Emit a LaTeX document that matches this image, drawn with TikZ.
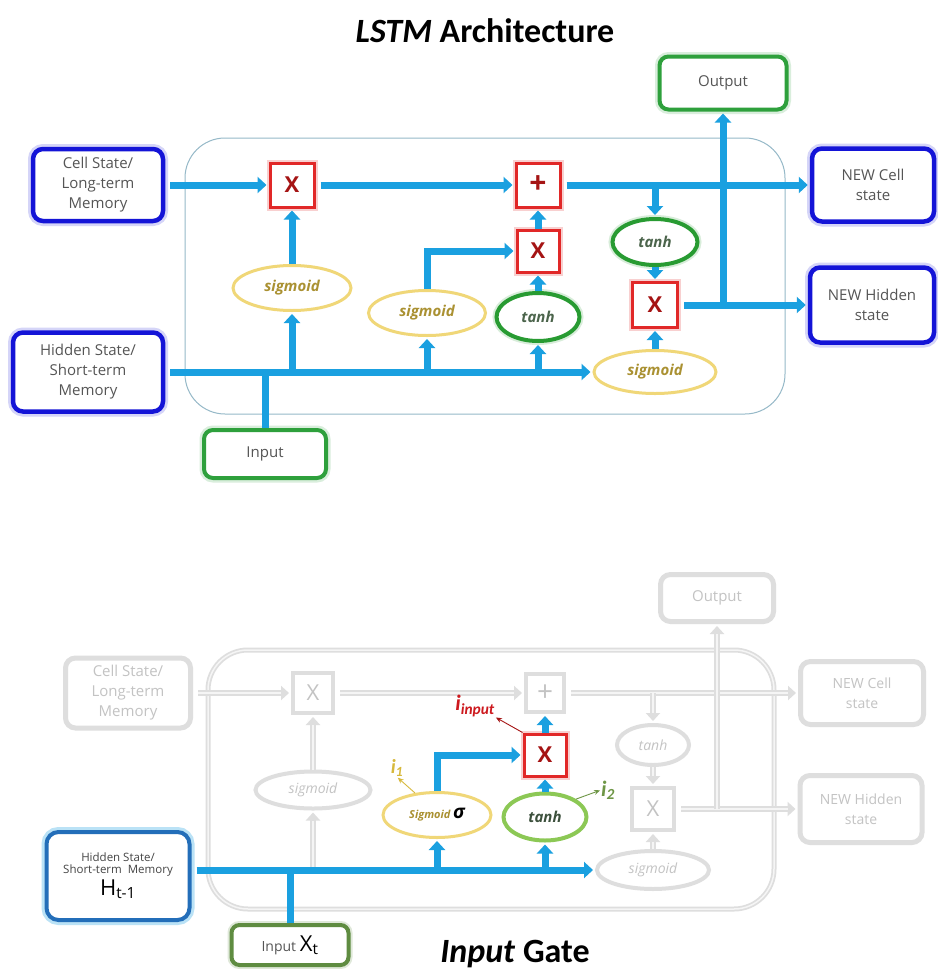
\documentclass[tikz,border=0pt]{standalone}
\usepackage{fontspec}
\setmainfont{Open Sans}
\newfontfamily\titlefont{Carlito}
\usetikzlibrary{arrows.meta,shapes.geometric,calc}
\definecolor{flow}{RGB}{26,160,224}
\definecolor{stateblue}{RGB}{20,20,215}
\definecolor{boxgreen}{RGB}{46,160,60}
\definecolor{opred}{RGB}{225,40,40}
\definecolor{opdark}{RGB}{165,20,20}
\definecolor{sigyel}{RGB}{240,215,120}
\definecolor{sigtxt}{RGB}{170,145,50}
\definecolor{tanhgr}{RGB}{40,155,50}
\definecolor{tanhtxt}{RGB}{75,100,75}
\definecolor{frameblue}{RGB}{150,185,200}
\definecolor{txtgrey}{RGB}{85,85,85}
\definecolor{ghost}{RGB}{222,222,222}
\definecolor{ghostin}{RGB}{245,245,245}
\definecolor{ghosttxt}{RGB}{195,195,195}
\definecolor{hsblue}{RGB}{35,110,185}
\definecolor{ingreen}{RGB}{95,140,65}
\definecolor{lgreen}{RGB}{140,200,85}
\definecolor{i1col}{RGB}{215,185,60}
\definecolor{i2col}{RGB}{110,150,70}
\definecolor{iincol}{RGB}{205,25,30}
\tikzset{
  boxtxt/.style={font=\fontsize{15}{20}\selectfont, text=txtgrey, align=center},
  statebox/.style={boxtxt, draw=stateblue, line width=4.5pt, rounded corners=10pt, fill=white, inner sep=0pt,
    preaction={draw=stateblue!18, line width=10pt}},
  greenbox/.style={boxtxt, draw=boxgreen, line width=4pt, rounded corners=9pt, fill=white, inner sep=0pt,
    preaction={draw=boxgreen!18, line width=9pt}},
  opbox/.style={draw=opred, line width=3pt, fill=white, minimum size=44pt, inner sep=0pt, text=opdark,
    font=\fontsize{22}{22}\selectfont\bfseries, preaction={draw=opred!22, line width=7pt}},
  sigell/.style={ellipse, draw=sigyel, line width=3pt, fill=white, inner sep=0pt, text=sigtxt,
    font=\fontsize{15}{18}\selectfont\itshape\bfseries},
  tanhell/.style={ellipse, draw=tanhgr, line width=4pt, fill=white, inner sep=0pt, text=tanhtxt,
    font=\fontsize{15}{18}\selectfont\itshape\bfseries, preaction={draw=tanhgr!18, line width=8pt}},
  flowarrow/.style={draw=flow, line width=7pt, -{Triangle[width=16pt,length=9pt]}, shorten >=2pt},
  flowline/.style={draw=flow, line width=7pt},
  ghostbox/.style={font=\fontsize{15}{20}\selectfont, text=ghosttxt, align=center, draw=ghost, line width=5pt,
    rounded corners=10pt, fill=white, inner sep=0pt},
  ghostop/.style={draw=ghost, line width=4pt, fill=white, minimum size=40pt, inner sep=0pt, text=ghosttxt,
    font=\fontsize{22}{22}\selectfont},
  ghostell/.style={ellipse, draw=ghost, line width=4pt, fill=white, inner sep=0pt, text=ghosttxt,
    font=\fontsize{14}{18}\selectfont\itshape},
  ghostarrow/.style={draw=ghost, line width=6pt, -{Triangle[width=14pt,length=8pt]}, shorten >=2pt,
    postaction={draw=ghostin, line width=2pt, -, shorten >=10pt}},
  labarrow/.style={line width=0.9pt, -{Stealth[length=6pt,width=5pt]}, shorten >=1pt},
}
\begin{document}
\begin{tikzpicture}[x=1pt,y=-1pt]
\useasboundingbox (0,0) rectangle (937,969);
\fill[white] (0,0) rectangle (937,969);

% ================= TOP: LSTM Architecture =================
\node[font=\titlefont\bfseries\fontsize{34}{40}\selectfont, anchor=base] (title) at (485,42) {\textit{LSTM} Architecture};

\draw[draw=frameblue, line width=1pt, rounded corners=40pt] (185,138) rectangle (785,414);

\node[statebox, minimum width=130pt, minimum height=72pt] (cs) at (98,185) {Cell State/\\Long-term\\Memory};
\node[statebox, minimum width=150pt, minimum height=79pt] (hs) at (88,372) {Hidden State/\\Short-term\\Memory};
\node[statebox, minimum width=122pt, minimum height=73pt] (nc) at (873,185) {NEW Cell\\state};
\node[statebox, minimum width=124pt, minimum height=75pt] (nh) at (872,305) {NEW Hidden\\state};
\node[greenbox, minimum width=127pt, minimum height=53pt] (out) at (723,83) {Output};
\node[greenbox, minimum width=122pt, minimum height=48pt] (in) at (265,454) {Input};

\node[opbox] (x1) at (292,185) {X};
\node[opbox, font=\fontsize{30}{30}\selectfont\bfseries] (pl) at (538,185) {+};
\node[opbox, minimum size=42pt] (x2) at (538,251) {X};
\node[opbox, minimum size=45pt] (x3) at (655,305) {X};

\node[sigell, minimum width=118pt, minimum height=45pt] (s1) at (292,288) {sigmoid};
\node[sigell, minimum width=117pt, minimum height=45pt] (s2) at (427,313) {sigmoid};
\node[sigell, minimum width=122pt, minimum height=43pt] (s3) at (655,372) {sigmoid};
\node[tanhell, minimum width=83pt, minimum height=48pt] (t2) at (538,317) {tanh};
\node[tanhell, minimum width=85pt, minimum height=46pt] (t1) at (655,242) {tanh};

\coordinate (hj) at (in.north |- s3.west);
\coordinate (cj) at (t1.north |- pl.east);
\coordinate (oj) at (out.south |- x3.east);

% cell state path
\draw[flowarrow, shorten <=5pt] (cs.east) -- (x1.west);
\draw[flowarrow, shorten <=5pt] (x1.east) -- (pl.west);
\draw[flowarrow, shorten <=5pt] (pl.east) -- (nc.west);
% hidden path
\draw[flowarrow, shorten <=5pt] (hs.east) -- (s3.west);
\draw[flowline] (in.north) -- (hj);
\draw[flowarrow] (s1.south |- hj) -- (s1.south);
\draw[flowarrow] (s1.north) -- (x1.south);
\draw[flowarrow] (s2.south |- hj) -- (s2.south);
\draw[flowarrow] (s2.north) |- (x2.west);
\draw[flowarrow] (t2.south |- hj) -- (t2.south);
\draw[flowarrow] (t2.north) -- (x2.south);
\draw[flowarrow] (x2.north) -- (pl.south);
% output path
\draw[flowarrow] (cj) -- (t1.north);
\draw[flowarrow] (t1.south) -- (x3.north);
\draw[flowarrow] (s3.north) -- (x3.south);
\draw[flowarrow, shorten <=5pt] (x3.east) -- (nh.west);
\draw[flowarrow] (oj) -- (out.south);

% ================= BOTTOM: Input Gate =================
\draw[draw=ghost, line width=5pt, rounded corners=40pt] (208,650) rectangle (774,909);
\draw[draw=ghostin, line width=1.5pt, rounded corners=40pt] (208,650) rectangle (774,909);

\node[ghostbox, minimum width=125pt, minimum height=70pt] (csb) at (128,693) {Cell State/\\Long-term\\Memory};
\node[ghostbox, minimum width=123pt, minimum height=63pt, font=\fontsize{14}{20}\selectfont] (ncb) at (862,693) {NEW Cell\\state};
\node[ghostbox, minimum width=122pt, minimum height=67pt, font=\fontsize{14}{20}\selectfont] (nhb) at (861,809) {NEW Hidden\\state};
\node[ghostbox, minimum width=113pt, minimum height=47pt] (outb) at (717,598) {Output};

\node[ghostop] (x1b) at (313,693) {X};
\node[ghostop, minimum size=38pt, font=\fontsize{28}{28}\selectfont] (pb) at (545,693) {+};
\node[ghostop, minimum size=42pt] (x3b) at (653,809) {X};
\node[ghostell, minimum width=72pt, minimum height=40pt] (tub) at (653,745) {tanh};
\node[ghostell, minimum width=112pt, minimum height=38pt] (s3b) at (653,870) {sigmoid};
\node[ghostell, minimum width=115pt, minimum height=37pt] (s1b) at (313,790) {sigmoid};

\node[draw=hsblue, line width=4pt, rounded corners=12pt, fill=white, inner sep=0pt, align=center,
  minimum width=143pt, minimum height=88pt, text=txtgrey!80!black,
  preaction={draw=flow!30, line width=10pt}] (hsb) at (118,876)
  {\fontsize{11.5}{17}\selectfont Hidden State/\\ \fontsize{11.5}{17}\selectfont Short-term\ \ Memory\\[2pt]
   {\color{black}\fontsize{22}{22}\selectfont H\textsubscript{t-1}}};
\node[draw=ingreen, line width=4pt, rounded corners=8pt, fill=white, inner sep=0pt, minimum width=117pt,
  minimum height=40pt, text=txtgrey, preaction={draw=ingreen!20, line width=8pt}] (inb) at (290,945)
  {\fontsize{14}{16}\selectfont Input {\color{black}\fontsize{22}{22}\selectfont X\textsubscript{t}}};

\node[opbox, minimum size=42pt] (x2b) at (545,755) {X};
\node[ellipse, draw=sigyel, line width=3pt, fill=white, inner sep=0pt, minimum width=108pt, minimum height=45pt] (sgb) at (437,815)
  {{\fontsize{11}{13}\selectfont\itshape\bfseries\color{sigtxt}Sigmoid} {\fontsize{19}{19}\selectfont\itshape\bfseries σ}};
\node[ellipse, draw=lgreen, line width=4pt, fill=white, inner sep=0pt, minimum width=83pt, minimum height=47pt,
  text=tanhtxt!80!black, font=\fontsize{15}{18}\selectfont\itshape\bfseries] (t2b) at (545,817) {tanh};

% ghost connectors
\draw[ghostarrow, shorten <=5pt] (csb.east) -- (x1b.west);
\draw[ghostarrow, shorten <=5pt] (x1b.east) -- (pb.west);
\draw[ghostarrow, shorten <=5pt] (pb.east) -- (ncb.west);
\draw[ghostarrow] (tub.north |- pb.east) -- (tub.north);
\draw[ghostarrow] (tub.south) -- (x3b.north);
\draw[ghostarrow] (s3b.north) -- (x3b.south);
\draw[ghostarrow, shorten <=5pt] (x3b.east) -- (nhb.west);
\draw[ghostarrow] (outb.south |- x3b.east) -- (outb.south);
\draw[ghostarrow] (s1b.south |- s3b.west) -- (s1b.south);
\draw[ghostarrow] (s1b.north) -- (x1b.south);

% active (blue) connectors
\draw[flowarrow, shorten <=5pt] (hsb.east |- s3b.west) -- (s3b.west);
\draw[flowline] (inb.north) -- (inb.north |- s3b.west);
\draw[flowarrow] (sgb.south |- s3b.west) -- (sgb.south);
\draw[flowarrow] (sgb.north) |- (x2b.west);
\draw[flowarrow] (t2b.south |- s3b.west) -- (t2b.south);
\draw[flowarrow] (t2b.north) -- (x2b.south);
\draw[flowarrow] (x2b.north) -- (pb.south);

% labels
\node[anchor=south, inner sep=0pt, text=i1col, font=\titlefont\itshape\bfseries\fontsize{20}{20}\selectfont] (i1) at (397,777) {i\textsubscript{1}};
\draw[labarrow, i1col] (sgb.135) -- (i1.south);
\node[anchor=west, inner sep=0pt, text=i2col, font=\titlefont\itshape\bfseries\fontsize{22}{22}\selectfont] (i2) at (601,790) {i\textsubscript{2}};
\draw[labarrow, i2col] (t2b.30) -- (i2.west);
\node[anchor=south east, inner sep=0pt, text=iincol, font=\titlefont\itshape\bfseries\fontsize{22}{22}\selectfont] (iin) at (495,717) {i\textsubscript{input}};
\draw[labarrow, opdark] (x2b.north west) -- (iin.south east);

\node[font=\titlefont\bfseries\fontsize{34}{40}\selectfont, anchor=base] (title2) at (515,962) {\textit{Input} Gate};
\end{tikzpicture}
\end{document}
